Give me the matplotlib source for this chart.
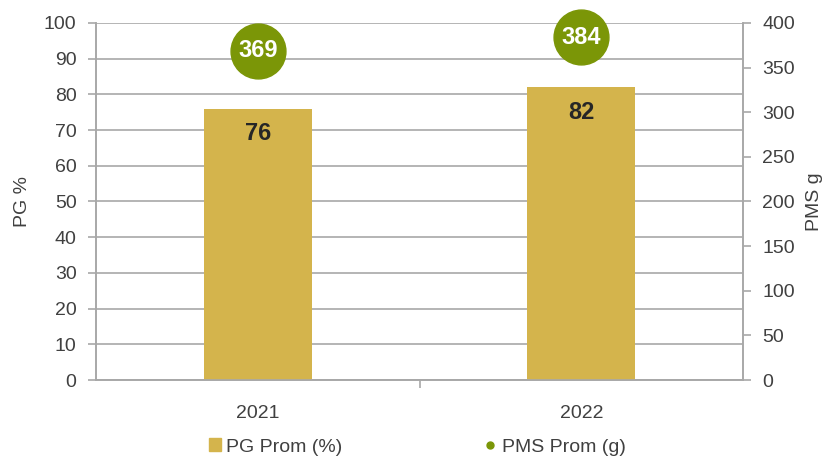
import matplotlib.pyplot as plt
from matplotlib.lines import Line2D
from matplotlib.patches import Patch

plt.rcParams['font.family'] = ['Liberation Sans', 'DejaVu Sans']

years = ['2021', '2022']
pg_prom = [76, 82]        # germination %, left axis
pms_prom = [369, 384]     # thousand-seed weight in g, right axis

BAR_COLOR = '#d4b44c'
DOT_COLOR = '#7b9607'
GRID_COLOR = '#a8a8a8'
TEXT_COLOR = '#404040'
FS = 14

fig = plt.figure(figsize=(8.3, 4.58), dpi=100)
ax = fig.add_axes([0.1157, 0.1703, 0.7795, 0.7795])
ax2 = ax.twinx()

x = range(len(years))
ax.bar(x, pg_prom, width=0.334, color=BAR_COLOR, zorder=3)
for xi, v in zip(x, pg_prom):
    ax.text(xi, v - 7, str(v), ha='center', va='center', fontsize=17,
            fontweight='bold', color='#262626', zorder=4)

ax.set_xlim(-0.5, 1.5)
ax.set_ylim(0, 100)
ax.set_yticks(range(0, 101, 10))
ax.set_xticks(list(x))
ax.set_xticklabels(years)
ax.set_xticks([0.5], minor=True)
ax.grid(axis='y', color=GRID_COLOR, linewidth=1.2, zorder=0)
ax.set_axisbelow(True)
ax.set_ylabel('PG %', fontsize=FS, color=TEXT_COLOR)
ax.yaxis.set_label_coords(-0.100, 0.5)

ax2.set_ylim(0, 400)
ax2.set_yticks(range(0, 401, 50))
ax2.scatter(list(x), pms_prom, s=1560, color=DOT_COLOR, zorder=5, clip_on=False)
for xi, v in zip(x, pms_prom):
    ax2.text(xi, v, str(v), ha='center', va='center', fontsize=17,
             fontweight='bold', color='white', zorder=6)
ax2.set_ylabel('PMS g', fontsize=FS, color=TEXT_COLOR, rotation=90)
ax2.yaxis.set_label_coords(1.098, 0.5)

for a in (ax, ax2):
    a.spines['top'].set_visible(False)
    for side in ('left', 'right', 'bottom'):
        a.spines[side].set_color(GRID_COLOR)
        a.spines[side].set_linewidth(1.2)
    a.tick_params(axis='y', length=6, width=1.2, color=GRID_COLOR,
                  labelsize=FS, labelcolor=TEXT_COLOR, pad=8)
ax.tick_params(axis='x', which='major', length=0, labelsize=FS,
               labelcolor=TEXT_COLOR, pad=18)
ax.tick_params(axis='x', which='minor', length=6, width=1.2, color=GRID_COLOR)

handles = [
    Patch(color=BAR_COLOR, label='PG Prom (%)'),
    Line2D([], [], marker='o', linestyle='none', color=DOT_COLOR,
           markersize=5, label='PMS Prom (g)'),
]
fig.legend(handles=handles, loc='center', bbox_to_anchor=(0.503, 0.024),
           ncol=2, frameon=False, fontsize=FS, columnspacing=7.3,
           handlelength=0.6, handleheight=0.6, handletextpad=0.3,
           labelcolor=TEXT_COLOR, borderpad=0)

fig.savefig('out.png', dpi=100)
